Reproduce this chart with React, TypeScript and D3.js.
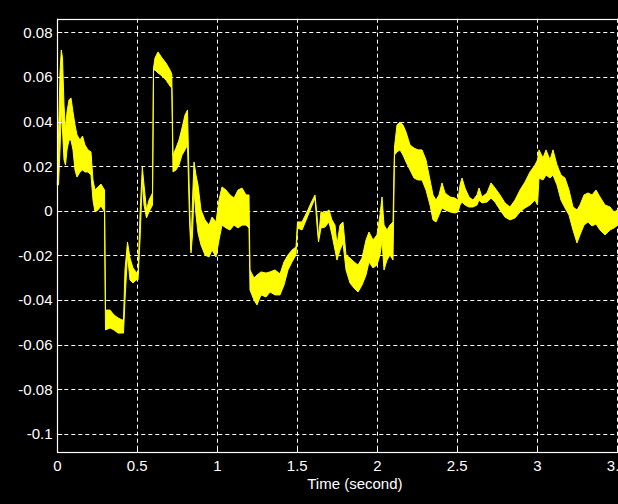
import React from "react";
import * as d3 from "d3";

const times = [0.000,0.0075,0.0169,0.025,0.0325,0.0419,0.0513,0.0606,0.0731,0.0856,0.0981,0.1106,0.1231,0.1419,0.1575,0.1731,0.1919,0.2106,0.2231,0.2356,0.2544,0.2731,0.295,0.3013,0.3294,0.3544,0.3794,0.4044,0.4138,0.4231,0.4388,0.4544,0.4731,0.4919,0.5044,0.5169,0.5313,0.5419,0.5575,0.5731,0.595,0.6013,0.6106,0.6294,0.6544,0.6794,0.7044,0.7156,0.7231,0.7419,0.7606,0.7794,0.7981,0.8138,0.8263,0.8356,0.845,0.8544,0.8669,0.8794,0.8981,0.9231,0.9481,0.9669,0.9919,1.0106,1.0294,1.0544,1.0794,1.1044,1.1294,1.1544,1.1794,1.1981,1.2044,1.2294,1.2481,1.2731,1.3044,1.3294,1.3606,1.3919,1.4169,1.4419,1.4669,1.4919,1.5013,1.5294,1.5606,1.5856,1.6106,1.6231,1.6325,1.6481,1.6731,1.6981,1.7169,1.7356,1.7481,1.7669,1.7856,1.8044,1.8294,1.8544,1.8794,1.9044,1.9294,1.9481,1.9731,1.9981,2.0169,2.0294,2.0419,2.0606,2.0794,2.0981,2.1075,2.1231,2.1419,2.1606,2.1794,2.2044,2.2294,2.2544,2.2794,2.3044,2.3294,2.3481,2.3669,2.3856,2.4044,2.4231,2.4544,2.4856,2.5044,2.5169,2.5294,2.5481,2.5731,2.5981,2.6231,2.6356,2.6544,2.6856,2.7106,2.7356,2.7669,2.7981,2.8294,2.8606,2.8919,2.9231,2.9544,2.9856,3.0013,3.0106,3.0356,3.0544,3.0794,3.0981,3.1231,3.1481,3.1731,3.1981,3.2231,3.2481,3.2669,3.2919,3.3169,3.3419,3.3669,3.3919,3.4231,3.4544,3.4794,3.5044];

const upper = [0.0116,0.0331,0.0622,0.0721,0.0685,0.0474,0.0362,0.0443,0.0497,0.0506,0.0443,0.0385,0.0340,0.0317,0.0335,0.0295,0.0273,0.0264,0.0138,0.0093,0.0107,0.0120,0.0093,-0.0445,-0.0445,-0.0467,-0.0480,-0.0489,-0.0489,-0.0265,-0.0140,-0.0212,-0.0256,-0.0274,-0.0288,-0.0019,0.0196,0.0116,0.0004,0.0048,0.0080,0.0640,0.0685,0.0712,0.0685,0.0662,0.0631,0.0613,0.0250,0.0281,0.0317,0.0371,0.0429,0.0452,0.0048,-0.0176,0.0048,0.0219,0.0160,0.0116,0.0004,-0.0041,-0.0064,-0.0028,-0.0050,0.0048,0.0107,0.0093,0.0071,0.0057,0.0093,0.0102,0.0071,0.0071,-0.0265,-0.0301,-0.0288,-0.0274,-0.0279,-0.0274,-0.0265,-0.0283,-0.0229,-0.0198,-0.0176,-0.0162,-0.0050,-0.0050,-0.0005,0.0035,0.0071,-0.0019,-0.0122,-0.0005,-0.0010,0.0004,-0.0041,-0.0064,-0.0153,-0.0064,-0.0050,-0.0198,-0.0212,-0.0229,-0.0243,-0.0212,-0.0131,-0.0095,-0.0131,-0.0108,-0.0019,0.0062,-0.0064,-0.0086,-0.0064,-0.0050,0.0286,0.0385,0.0398,0.0385,0.0353,0.0295,0.0281,0.0273,0.0273,0.0228,0.0138,0.0071,0.0048,0.0071,0.0125,0.0080,0.0062,0.0057,0.0048,0.0116,0.0147,0.0102,0.0062,0.0048,0.0071,0.0102,0.0062,0.0080,0.0125,0.0102,0.0071,0.0035,0.0017,0.0048,0.0093,0.0129,0.0174,0.0205,0.0228,0.0273,0.0237,0.0273,0.0228,0.0273,0.0205,0.0160,0.0147,0.0093,0.0017,0.0004,0.0026,0.0071,0.0080,0.0071,0.0093,0.0062,0.0026,0.0017,-0.0005,0.0004];

const lower = [0.0116,0.0116,0.0273,0.0452,0.0362,0.0228,0.0205,0.0273,0.0317,0.0317,0.0273,0.0183,0.0151,0.0174,0.0183,0.0174,0.0174,0.0160,0.0048,-0.0005,0.0004,0.0022,-0.0005,-0.0534,-0.0525,-0.0534,-0.0548,-0.0548,-0.0548,-0.0400,-0.0198,-0.0310,-0.0324,-0.0310,-0.0310,-0.0131,0.0138,0.0026,-0.0032,-0.0005,0.0026,0.0631,0.0631,0.0618,0.0604,0.0586,0.0559,0.0550,0.0174,0.0183,0.0205,0.0250,0.0273,0.0295,-0.0041,-0.0189,-0.0108,0.0093,-0.0019,-0.0099,-0.0153,-0.0198,-0.0207,-0.0176,-0.0207,-0.0131,-0.0064,-0.0077,-0.0086,-0.0064,-0.0077,-0.0064,-0.0064,-0.0077,-0.0355,-0.0400,-0.0422,-0.0377,-0.0386,-0.0364,-0.0377,-0.0377,-0.0333,-0.0265,-0.0229,-0.0198,-0.0077,-0.0086,-0.0032,0.0013,0.0057,-0.0064,-0.0140,-0.0077,-0.0073,-0.0050,-0.0108,-0.0176,-0.0221,-0.0176,-0.0144,-0.0265,-0.0324,-0.0346,-0.0364,-0.0333,-0.0288,-0.0229,-0.0256,-0.0243,-0.0198,-0.0131,-0.0265,-0.0221,-0.0198,-0.0221,0.0250,0.0264,0.0273,0.0250,0.0219,0.0183,0.0147,0.0138,0.0138,0.0093,0.0026,-0.0041,-0.0050,-0.0019,0.0013,0.0004,-0.0005,-0.0010,-0.0005,0.0026,0.0039,0.0026,0.0017,0.0017,0.0026,0.0048,0.0035,0.0039,0.0057,0.0039,0.0004,-0.0028,-0.0041,-0.0032,-0.0005,0.0013,0.0026,0.0048,0.0026,0.0147,0.0138,0.0160,0.0147,0.0160,0.0116,0.0048,0.0013,-0.0019,-0.0086,-0.0144,-0.0108,-0.0064,-0.0050,-0.0068,-0.0059,-0.0086,-0.0108,-0.0086,-0.0077,-0.0064];

const xTicks = [0, 0.5, 1, 1.5, 2, 2.5, 3, 3.5];
const xTickLabels = ["0", "0.5", "1", "1.5", "2", "2.5", "3", "3.5"];
const yTicks = [-0.1, -0.08, -0.06, -0.04, -0.02, 0, 0.02, 0.04, 0.06, 0.08];
const yTickLabels = ["-0.1", "-0.08", "-0.06", "-0.04", "-0.02", "0", "0.02", "0.04", "0.06", "0.08"];
const xLabel = "Time (second)";

const W = 618;
const H = 504;
const xLim: [number, number] = [0, 3.72];
const yLim: [number, number] = [-0.1081, 0.0861];

export default function App() {
  const x = d3.scaleLinear().domain([0, 3.5]).range([57.3, 617.3]);
  const y = d3.scaleLinear().domain([-0.1, 0.08]).range([433.9, 32.3]);
  const left = x(xLim[0]);
  const right = x(xLim[1]);
  const top = y(yLim[1]);
  const bottom = y(yLim[0]);

  const data = times.map((t, i) => ({ t, u: upper[i], l: lower[i] }));
  const area = d3
    .area<{ t: number; u: number; l: number }>()
    .x((d) => x(d.t))
    .y0((d) => y(d.l))
    .y1((d) => y(d.u));
  const font = "'Liberation Sans', Arial, Helvetica, sans-serif";

  return (
    <svg
      width={W}
      height={H}
      style={{ position: "absolute", left: 0, top: 0, display: "block" }}
    >
      <rect x={0} y={0} width={W} height={H} fill="#000" />
      {/* grid */}
      {yTicks.map((v) => (
        <line
          key={"gy" + v}
          x1={left}
          x2={right}
          y1={Math.round(y(v)) + 0.5}
          y2={Math.round(y(v)) + 0.5}
          stroke="#fff"
          strokeWidth={1}
          strokeDasharray="4,3"
        />
      ))}
      {xTicks.map((v) => (
        <line
          key={"gx" + v}
          x1={Math.round(x(v)) + 0.5}
          x2={Math.round(x(v)) + 0.5}
          y1={top}
          y2={bottom}
          stroke="#fff"
          strokeWidth={1}
          strokeDasharray="4,3"
        />
      ))}
      {/* signal */}
      <path
        d={area(data) || ""}
        fill="#ffff00"
        stroke="#ffff00"
        strokeWidth={1}
        strokeLinejoin="round"
      />
      {/* frame */}
      <rect
        x={Math.round(left) + 0.5}
        y={Math.round(top) + 0.5}
        width={right - left}
        height={Math.round(bottom) - Math.round(top)}
        fill="none"
        stroke="#fff"
        strokeWidth={1.2}
      />
      {/* ticks */}
      {xTicks.map((v) => (
        <line
          key={"tx" + v}
          x1={Math.round(x(v)) + 0.5}
          x2={Math.round(x(v)) + 0.5}
          y1={bottom}
          y2={bottom - 5}
          stroke="#fff"
        />
      ))}
      {yTicks.map((v) => (
        <line
          key={"ty" + v}
          x1={left}
          x2={left + 5}
          y1={Math.round(y(v)) + 0.5}
          y2={Math.round(y(v)) + 0.5}
          stroke="#fff"
        />
      ))}
      {/* tick labels */}
      {xTicks.map((v, i) => (
        <text
          key={"lx" + v}
          x={x(v)}
          y={470.7}
          fill="#fff"
          fontFamily={font}
          fontSize={15}
          textAnchor="middle"
        >
          {xTickLabels[i]}
        </text>
      ))}
      {yTicks.map((v, i) => (
        <text
          key={"ly" + v}
          x={52.5}
          y={y(v) + 5.4}
          fill="#fff"
          fontFamily={font}
          fontSize={15}
          textAnchor="end"
        >
          {yTickLabels[i]}
        </text>
      ))}
      <text
        x={(left + right) / 2}
        y={489.3}
        fill="#fff"
        fontFamily={font}
        fontSize={15}
        textAnchor="middle"
      >
        {xLabel}
      </text>
    </svg>
  );
}
